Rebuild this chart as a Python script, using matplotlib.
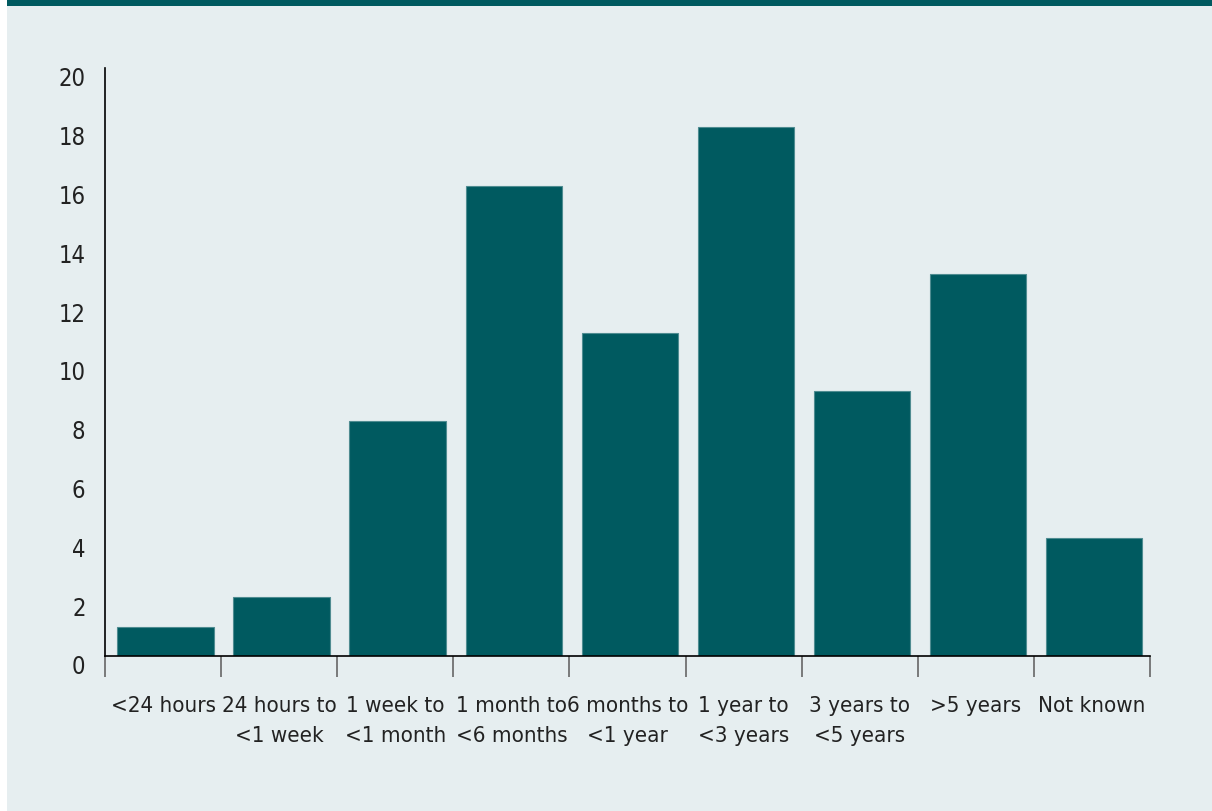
import matplotlib
matplotlib.use("Agg")
import matplotlib.pyplot as plt
from matplotlib.patches import Rectangle
from matplotlib.transforms import ScaledTranslation
import numpy as np

categories = ['<24 hours', '24 hours to\n<1 week', '1 week to\n<1 month',
              '1 month to\n<6 months', '6 months to\n<1 year', '1 year to\n<3 years',
              '3 years to\n<5 years', '>5 years', 'Not known']
values = [1, 2, 8, 16, 11, 18, 9, 13, 4]
y_ticks = list(range(0, 21, 2))

teal = '#005a60'
bg = '#e6eef0'

plt.rcParams['font.family'] = ['DejaVu Sans']
plt.rcParams['font.stretch'] = 'condensed'

fig = plt.figure(figsize=(12.12, 8.11), dpi=100, facecolor='white')
W, H = 1212, 811

# background panel and top band
fig.patches.append(Rectangle((7 / W, 0), 1 - 7 / W, 1, transform=fig.transFigure,
                             facecolor=bg, edgecolor='none', zorder=-2))
fig.patches.append(Rectangle((7 / W, 1 - 6 / H), 1 - 7 / W, 6 / H, transform=fig.transFigure,
                             facecolor=teal, edgecolor='none', zorder=-1))

ax = fig.add_axes([105 / W, 1 - 656 / H, (1150 - 105) / W, (656 - 68) / H])
ax.set_facecolor('none')

x = np.arange(len(values))
ax.bar(x + 0.02, values, width=0.83, color=teal, edgecolor='#4f8c91', linewidth=0.8)

ax.set_xlim(-0.5, len(values) - 0.5)
ax.set_ylim(0, 20)

for s in ['top', 'right']:
    ax.spines[s].set_visible(False)
ax.spines['left'].set_linewidth(1.2)
ax.spines['bottom'].set_linewidth(1.2)

ax.set_yticks(y_ticks)
ax.set_yticklabels([str(t) for t in y_ticks], fontsize=17, color='#222222')
ax.tick_params(axis='y', length=0, pad=14)
for lab in ax.get_yticklabels():
    lab.set_transform(lab.get_transform() + ScaledTranslation(0, -9 / 100, fig.dpi_scale_trans))

ax.set_xticks(x)
ax.set_xticklabels(categories, fontsize=16, color='#222222', linespacing=1.6, va='top')
ax.tick_params(axis='x', which='major', length=0, pad=29)
ax.set_xticks(np.arange(-0.5, len(values)), minor=True)
ax.tick_params(axis='x', which='minor', length=15, width=1.2, color='#666666', direction='out')

fig.savefig('out.png', dpi=100, facecolor=fig.get_facecolor())
